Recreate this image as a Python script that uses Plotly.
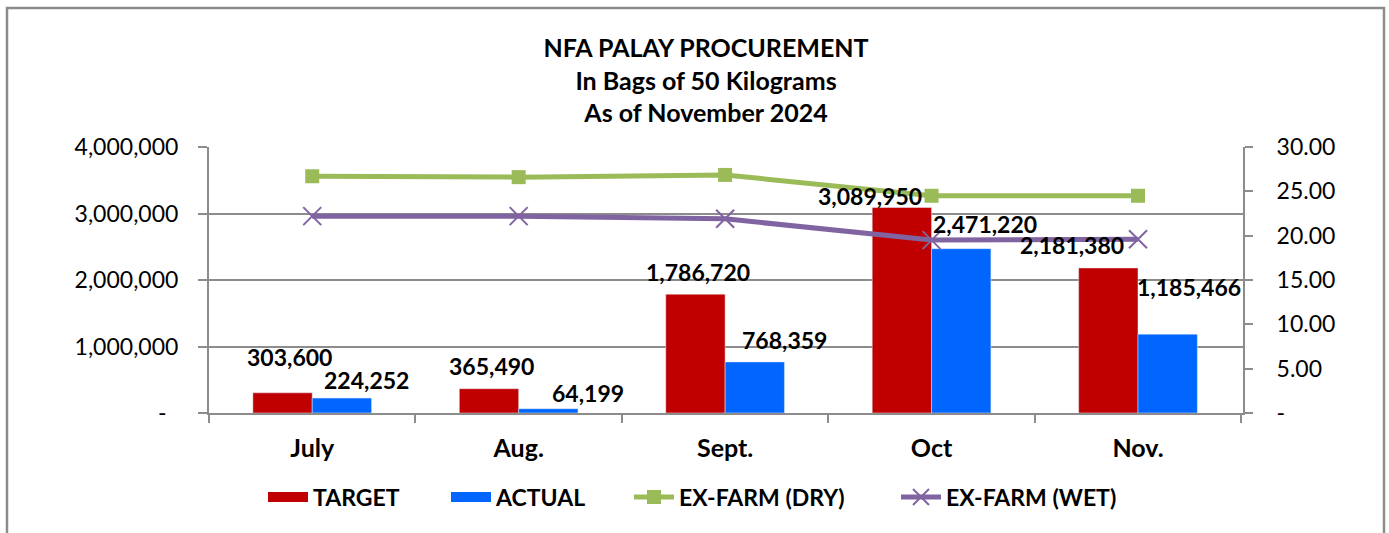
import plotly.graph_objects as go

# ---- data ----
months = ["July", "Aug.", "Sept.", "Oct", "Nov."]
target = [303600, 365490, 1786720, 3089950, 2181380]
actual = [224252, 64199, 768359, 2471220, 1185466]
exfarm_dry = [26.7, 26.6, 26.85, 24.5, 24.5]
exfarm_wet = [22.2, 22.2, 21.9, 19.5, 19.6]

left_ticks = [0, 1000000, 2000000, 3000000, 4000000]
left_ticktext = ["-\u00a0\u00a0", "1,000,000", "2,000,000", "3,000,000", "4,000,000"]
right_ticks = [0, 5, 10, 15, 20, 25, 30]
right_ticktext = ["-", "5.00", "10.00", "15.00", "20.00", "25.00", "30.00"]

# ---- styles ----
C_TARGET = "#C00000"
C_ACTUAL = "#0066FF"
C_DRY = "#9BBB59"
C_WET = "#8064A2"
GRID = "#8C8C8C"
FONT = "Lato"

# label offsets in pixels (x from category centre, y above bar top)
target_lbl_dx = [-23, -27, -27, -62, -66]
target_lbl_dy = [36, 23, 22, 12, 23]
actual_lbl_dx = [54, 69, 59, 53, 51]
actual_lbl_dy = [18, 16, 22, 25, 47]

fig = go.Figure()
fig.add_trace(go.Bar(x=months, y=target, name="TARGET", marker=dict(color=C_TARGET),
                     showlegend=False, legendgroup="t"))
fig.add_trace(go.Bar(x=months, y=actual, name="ACTUAL", marker=dict(color=C_ACTUAL),
                     showlegend=False, legendgroup="a"))
# legend swatches for the bar series (wide rectangles as in the original)
fig.add_trace(go.Scatter(x=[None], y=[None], name="TARGET", mode="lines", legendgroup="t",
                         line=dict(color=C_TARGET, width=17), legendwidth=128))
fig.add_trace(go.Scatter(x=[None], y=[None], name="ACTUAL", mode="lines", legendgroup="a",
                         line=dict(color=C_ACTUAL, width=17), legendwidth=128))
fig.add_trace(go.Scatter(x=months, y=exfarm_dry, name="EX-FARM (DRY)", yaxis="y2",
                         mode="lines+markers", line=dict(color=C_DRY, width=5),
                         marker=dict(symbol="square", size=14, color=C_DRY), legendwidth=212))
fig.add_trace(go.Scatter(x=months, y=exfarm_wet, name="EX-FARM (WET)", yaxis="y2",
                         mode="lines+markers", line=dict(color=C_WET, width=5),
                         marker=dict(symbol="x-thin", size=18, color=C_WET,
                                     line=dict(color=C_WET, width=2))))

annotations = []
for i, m in enumerate(months):
    annotations.append(dict(x=m, y=target[i], xref="x", yref="y", showarrow=False,
                            text=f"{target[i]:,}", xshift=target_lbl_dx[i], yshift=target_lbl_dy[i],
                            font=dict(family=FONT, size=23, color="black", weight="bold")))
    annotations.append(dict(x=m, y=actual[i], xref="x", yref="y", showarrow=False,
                            text=f"{actual[i]:,}", xshift=actual_lbl_dx[i], yshift=actual_lbl_dy[i],
                            font=dict(family=FONT, size=23, color="black", weight="bold")))

fig.update_layout(
    width=1389, height=533,
    margin=dict(l=209, r=146, t=147, b=120),
    paper_bgcolor="white", plot_bgcolor="white",
    font=dict(family=FONT, size=22, color="black"),
    title=dict(text="<b>NFA PALAY PROCUREMENT<br>In Bags of 50 Kilograms<br>As of November 2024</b>",
               x=706 / 1389, xanchor="center", y=1 - 57 / 533, yanchor="middle",
               font=dict(family=FONT, size=25, color="black")),
    barmode="group", bargap=0.425, bargroupgap=0,
    showlegend=True,
    legend=dict(orientation="h", x=(263 - 209) / 1034, xanchor="left", y=-0.316, yanchor="middle",
                font=dict(family=FONT, size=23, color="black", weight="bold"),
                traceorder="normal", itemwidth=40),
    xaxis=dict(type="category", showline=True, linecolor=GRID, linewidth=2,
               ticks="outside", tickson="boundaries", ticklen=8, tickcolor=GRID, tickwidth=2,
               tickfont=dict(family=FONT, size=25, color="black", weight="bold"),
               showgrid=False, ticklabelstandoff=12),
    yaxis=dict(range=[0, 4000000], tickvals=left_ticks, ticktext=left_ticktext,
               showline=True, linecolor=GRID, linewidth=2, ticks="outside", ticklen=9,
               tickcolor=GRID, tickwidth=2, showgrid=True, gridcolor=GRID, gridwidth=2,
               zeroline=False, tickfont=dict(family=FONT, size=23, color="black"), ticklabelstandoff=15),
    yaxis2=dict(range=[0, 30], tickvals=right_ticks, ticktext=right_ticktext, overlaying="y",
                side="right", showline=True, linecolor=GRID, linewidth=2, ticks="outside",
                ticklen=8, tickcolor=GRID, tickwidth=2, showgrid=False, zeroline=False,
                tickfont=dict(family=FONT, size=23, color="black"), ticklabelstandoff=19),
    annotations=annotations,
    shapes=[dict(type="rect", xref="paper", yref="paper",
                 x0=(7 - 209) / 1034, x1=(1384 - 209) / 1034,
                 y0=-0.7, y1=(413 - 8) / 266,
                 line=dict(color="#8C8C8C", width=2.5), fillcolor="rgba(0,0,0,0)", layer="below")],
)

fig.write_html("out.html", config={"displayModeBar": False},
               post_script="document.body.style.margin='0';document.body.style.overflow='hidden';")
